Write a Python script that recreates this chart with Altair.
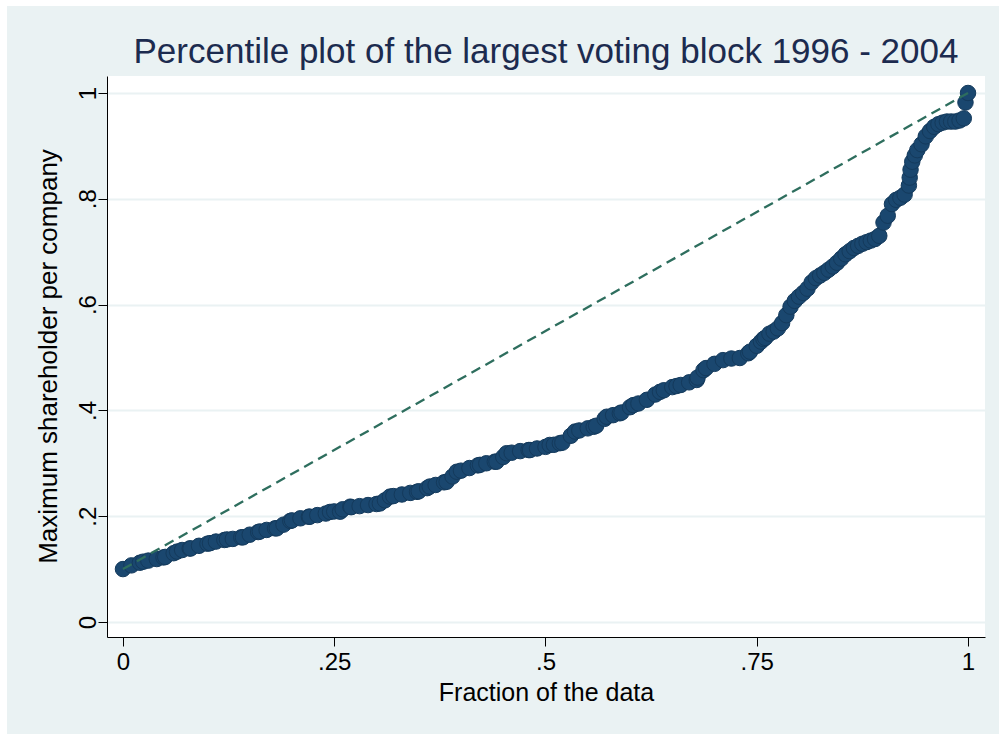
import altair as alt
import pandas as pd

# Fraction of the data (quantile position) and the matching largest voting block
fraction = [
    0.00, 0.01, 0.02, 0.03, 0.04, 0.05, 0.06, 0.07, 0.08, 0.09,
    0.10, 0.11, 0.12, 0.13, 0.14, 0.15, 0.16, 0.17, 0.18, 0.19,
    0.20, 0.21, 0.22, 0.23, 0.24, 0.25, 0.26, 0.27, 0.28, 0.29,
    0.30, 0.31, 0.32, 0.33, 0.34, 0.35, 0.36, 0.37, 0.38, 0.39,
    0.40, 0.41, 0.42, 0.43, 0.44, 0.45, 0.46, 0.47, 0.48, 0.49,
    0.50, 0.51, 0.52, 0.53, 0.54, 0.55, 0.56, 0.57, 0.58, 0.59,
    0.60, 0.61, 0.62, 0.63, 0.64, 0.65, 0.66, 0.67, 0.68, 0.69,
    0.70, 0.71, 0.72, 0.73, 0.74, 0.75, 0.755, 0.76, 0.765, 0.77,
    0.775, 0.78, 0.785, 0.79, 0.795, 0.80, 0.805, 0.81, 0.815, 0.82,
    0.825, 0.83, 0.835, 0.84, 0.845, 0.85, 0.855, 0.86, 0.865, 0.87,
    0.875, 0.88, 0.885, 0.89, 0.895, 0.90, 0.905, 0.91, 0.915, 0.92,
    0.925, 0.93, 0.931, 0.932, 0.934, 0.937, 0.94, 0.945, 0.95, 0.955,
    0.96, 0.965, 0.97, 0.975, 0.98, 0.985, 0.99, 0.995, 0.997, 1.00,
]
max_share = [
    0.100, 0.107, 0.112, 0.116, 0.119, 0.123, 0.130, 0.136, 0.139, 0.144,
    0.148, 0.152, 0.155, 0.157, 0.160, 0.165, 0.170, 0.174, 0.177, 0.184,
    0.192, 0.196, 0.199, 0.202, 0.205, 0.209, 0.213, 0.217, 0.219, 0.221,
    0.223, 0.230, 0.238, 0.241, 0.244, 0.247, 0.253, 0.259, 0.264, 0.275,
    0.286, 0.291, 0.296, 0.300, 0.303, 0.312, 0.320, 0.323, 0.325, 0.328,
    0.331, 0.335, 0.339, 0.352, 0.362, 0.366, 0.371, 0.384, 0.391, 0.396,
    0.406, 0.413, 0.420, 0.430, 0.438, 0.444, 0.448, 0.453, 0.462, 0.480,
    0.488, 0.495, 0.498, 0.499, 0.508, 0.522, 0.530, 0.537, 0.545, 0.549,
    0.555, 0.565, 0.580, 0.596, 0.607, 0.615, 0.622, 0.630, 0.642, 0.650,
    0.655, 0.660, 0.666, 0.672, 0.679, 0.687, 0.695, 0.701, 0.707, 0.711,
    0.715, 0.718, 0.721, 0.724, 0.730, 0.755, 0.768, 0.790, 0.798, 0.802,
    0.808, 0.825, 0.840, 0.855, 0.870, 0.882, 0.892, 0.903, 0.918, 0.928,
    0.936, 0.941, 0.944, 0.946, 0.946, 0.946, 0.948, 0.952, 0.982, 1.000,
]

# Further observations between the positions above
fraction_more = [
    0.024, 0.048, 0.064, 0.079, 0.103, 0.123, 0.142, 0.162, 0.182, 0.198,
    0.221, 0.245, 0.257, 0.269, 0.304, 0.316, 0.348, 0.363, 0.383, 0.395,
    0.4225, 0.442, 0.454, 0.4817, 0.505, 0.517, 0.535, 0.557, 0.5725, 0.588,
    0.604, 0.6355, 0.655, 0.679, 0.687, 0.742, 0.758,
]
max_share_more = [
    0.114, 0.122, 0.133, 0.139, 0.149, 0.156, 0.160, 0.171, 0.177, 0.191,
    0.199, 0.208, 0.2085, 0.218, 0.224, 0.237, 0.246, 0.256, 0.265, 0.284,
    0.297, 0.303, 0.319, 0.325, 0.3346, 0.338, 0.360, 0.369, 0.388, 0.3945,
    0.410, 0.435, 0.446, 0.4575, 0.476, 0.511, 0.535,
]

# Reference line from the smallest to the largest value
ref_fraction = [0.0, 1.0]
ref_value = [0.1, 1.0]

x_ticks = [0, 0.25, 0.5, 0.75, 1]
y_ticks = [0, 0.2, 0.4, 0.6, 0.8, 1]

TITLE = "Percentile plot of the largest voting block 1996 - 2004"

BG = "#EAF2F3"
NAVY = "#1A476F"
GREEN = "#2E6E5E"
FONT = "Liberation Sans"

points = pd.DataFrame({
    "f": fraction + fraction_more,
    "v": max_share + max_share_more,
}).sort_values("f")
ref = pd.DataFrame({"f": ref_fraction, "v": ref_value})
title_df = pd.DataFrame({"t": [TITLE]})

label_expr = ("datum.value > 0 && datum.value < 1 ? "
              "substring(format(datum.value, '.2~f'), 1) : format(datum.value, 'd')")

x_scale = alt.Scale(domain=[-0.0189, 1.0201], nice=False, zero=False)
y_scale = alt.Scale(domain=[-0.0284, 1.0321], nice=False, zero=False)

x_axis = alt.Axis(
    values=x_ticks, grid=False, labelExpr=label_expr,
    title="Fraction of the data", titleY=55, titleBaseline="middle",
    labelFontSize=24, titleFontSize=25, labelPadding=4, tickSize=9,
)
y_axis = alt.Axis(
    values=y_ticks, grid=True, gridColor=BG, gridWidth=2, labelExpr=label_expr,
    labelAngle=270, labelAlign="center", labelBaseline="alphabetic",
    title="Maximum shareholder per company", titleAngle=270,
    titleX=-59, titleY=280, titleAlign="center", titleBaseline="middle",
    labelFontSize=24, titleFontSize=26, labelPadding=3, tickSize=9,
)

dots = alt.Chart(points).mark_point(
    shape="circle", filled=True, size=240, fill=NAVY, stroke="#143A5C",
    strokeWidth=1, opacity=1,
).encode(
    x=alt.X("f:Q", scale=x_scale, axis=x_axis),
    y=alt.Y("v:Q", scale=y_scale, axis=y_axis),
)

diag = alt.Chart(ref).mark_line(
    color=GREEN, strokeWidth=2.3, strokeDash=[10, 6],
).encode(x=alt.X("f:Q", scale=x_scale), y=alt.Y("v:Q", scale=y_scale))

# Chart heading, centred over the plot area
heading = alt.Chart(title_df).mark_text(
    font=FONT, fontSize=35, color="#1C2B4F", align="center", baseline="middle",
).encode(text="t:N", x=alt.value(439), y=alt.value(-24))

# Thin white frame along the top and left edges of the page
frame_top = alt.Chart(ref).mark_rect(color="white").encode(
    x=alt.value(-107), x2=alt.value(892), y=alt.value(-76), y2=alt.value(-70)
)
frame_left = alt.Chart(ref).mark_rect(color="white").encode(
    x=alt.value(-107), x2=alt.value(-100), y=alt.value(-76), y2=alt.value(658)
)

chart = alt.layer(frame_top, frame_left, dots, diag, heading).properties(
    width=878,
    height=561,
    autosize=alt.AutoSizeParams(type="none"),
    padding={"left": 107, "top": 76, "right": 14, "bottom": 97},
    background=BG,
).configure_view(
    fill="white", stroke=None,
).configure_axis(
    labelFont=FONT, titleFont=FONT, labelColor="#000000", titleColor="#000000",
    titleFontWeight="normal", domainColor="#000000", domainWidth=1,
    tickColor="#000000", tickWidth=1,
)

chart.save("out.html", embed_options={"renderer": "svg", "actions": False})
